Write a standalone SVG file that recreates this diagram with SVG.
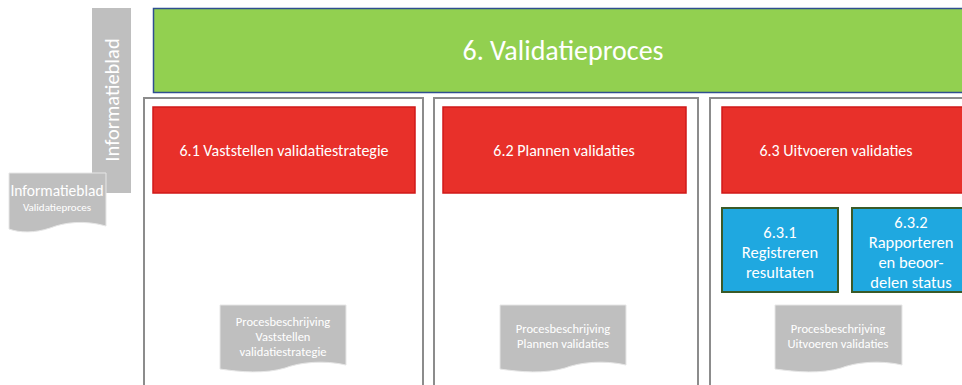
<svg xmlns="http://www.w3.org/2000/svg" width="962" height="385" viewBox="0 0 962 385">
<style>
text{font-family:Calibri,"Carlito","Open Sans","Liberation Sans",sans-serif;fill:#fff;text-anchor:middle}
.col{fill:#fff;stroke:#8c8c8c;stroke-width:2}
.red{fill:#e8302a;stroke:#d01818;stroke-width:1.5}
.blue{fill:#1fa8e0;stroke:#3a5a28;stroke-width:2}
.doc{fill:#bfbfbf;stroke:#e6e6e6;stroke-width:1}
.t15{font-size:16px}
.tb{font-size:16.5px}
.t11{font-size:12.5px}
</style>
<rect width="962" height="385" fill="#fff"/>
<g id="cols">
<rect class="col" x="144" y="98" width="279" height="300"/>
<rect class="col" x="434" y="98" width="264" height="300"/>
<rect class="col" x="710" y="98" width="270" height="300"/>
</g>
<g id="info-bar">
<rect x="92" y="8" width="39" height="185" fill="#bfbfbf"/>
<text transform="translate(119,100) rotate(-90)" font-size="20.5">Informatieblad</text>
</g>
<g id="info-doc">
<path class="doc" d="M9,173 H106 V226 C85,220 65,222 50,228 C35,233 20,233 9,229 Z"/>
<text x="57" y="196" font-size="15.5">Informatieblad</text>
<text x="57" y="211" font-size="11">Validatieproces</text>
</g>
<g id="main">
<rect x="153.5" y="8.5" width="815" height="84" fill="#92d050" stroke="#2f4f8f" stroke-width="1.5"/>
<text x="563" y="60" font-size="28">6. Validatieproces</text>
</g>
<g id="n61">
<rect class="red" x="153" y="107" width="262" height="86"/>
<text class="t15" x="284" y="156">6.1 Vaststellen validatiestrategie</text>
</g>
<g id="n62">
<rect class="red" x="443" y="107" width="243" height="86"/>
<text class="t15" x="564" y="156">6.2 Plannen validaties</text>
</g>
<g id="n63">
<rect class="red" x="722" y="107" width="250" height="86"/>
<text class="t15" x="836" y="156">6.3 Uitvoeren validaties</text>
</g>
<g id="n631">
<rect class="blue" x="722" y="208" width="116" height="84"/>
<text class="tb" x="780" y="238">6.3.1</text>
<text class="tb" x="780" y="258">Registreren</text>
<text class="tb" x="780" y="278">resultaten</text>
</g>
<g id="n632">
<rect class="blue" x="852" y="208" width="120" height="84"/>
<text class="tb" x="911" y="228">6.3.2</text>
<text class="tb" x="911" y="248">Rapporteren</text>
<text class="tb" x="911" y="268">en beoor-</text>
<text class="tb" x="911" y="288">delen status</text>
</g>
<g id="doc1">
<path class="doc" d="M220,305 H346 V365 C325,360 300,362 285,368 C265,374 240,372 220,369 Z"/>
<text class="t11" x="283" y="326">Procesbeschrijving</text>
<text class="t11" x="283" y="341">Vaststellen</text>
<text class="t11" x="283" y="356">validatiestrategie</text>
</g>
<g id="doc2">
<path class="doc" d="M500,305 H626 V365 C605,360 580,362 565,368 C545,374 520,372 500,369 Z"/>
<text class="t11" x="563" y="333">Procesbeschrijving</text>
<text class="t11" x="563" y="348">Plannen validaties</text>
</g>
<g id="doc3">
<path class="doc" d="M775,305 H902 V365 C881,360 856,362 841,368 C821,374 796,372 775,369 Z"/>
<text class="t11" x="838" y="333">Procesbeschrijving</text>
<text class="t11" x="838" y="348">Uitvoeren validaties</text>
</g>
<g id="connectors"></g>
</svg>
